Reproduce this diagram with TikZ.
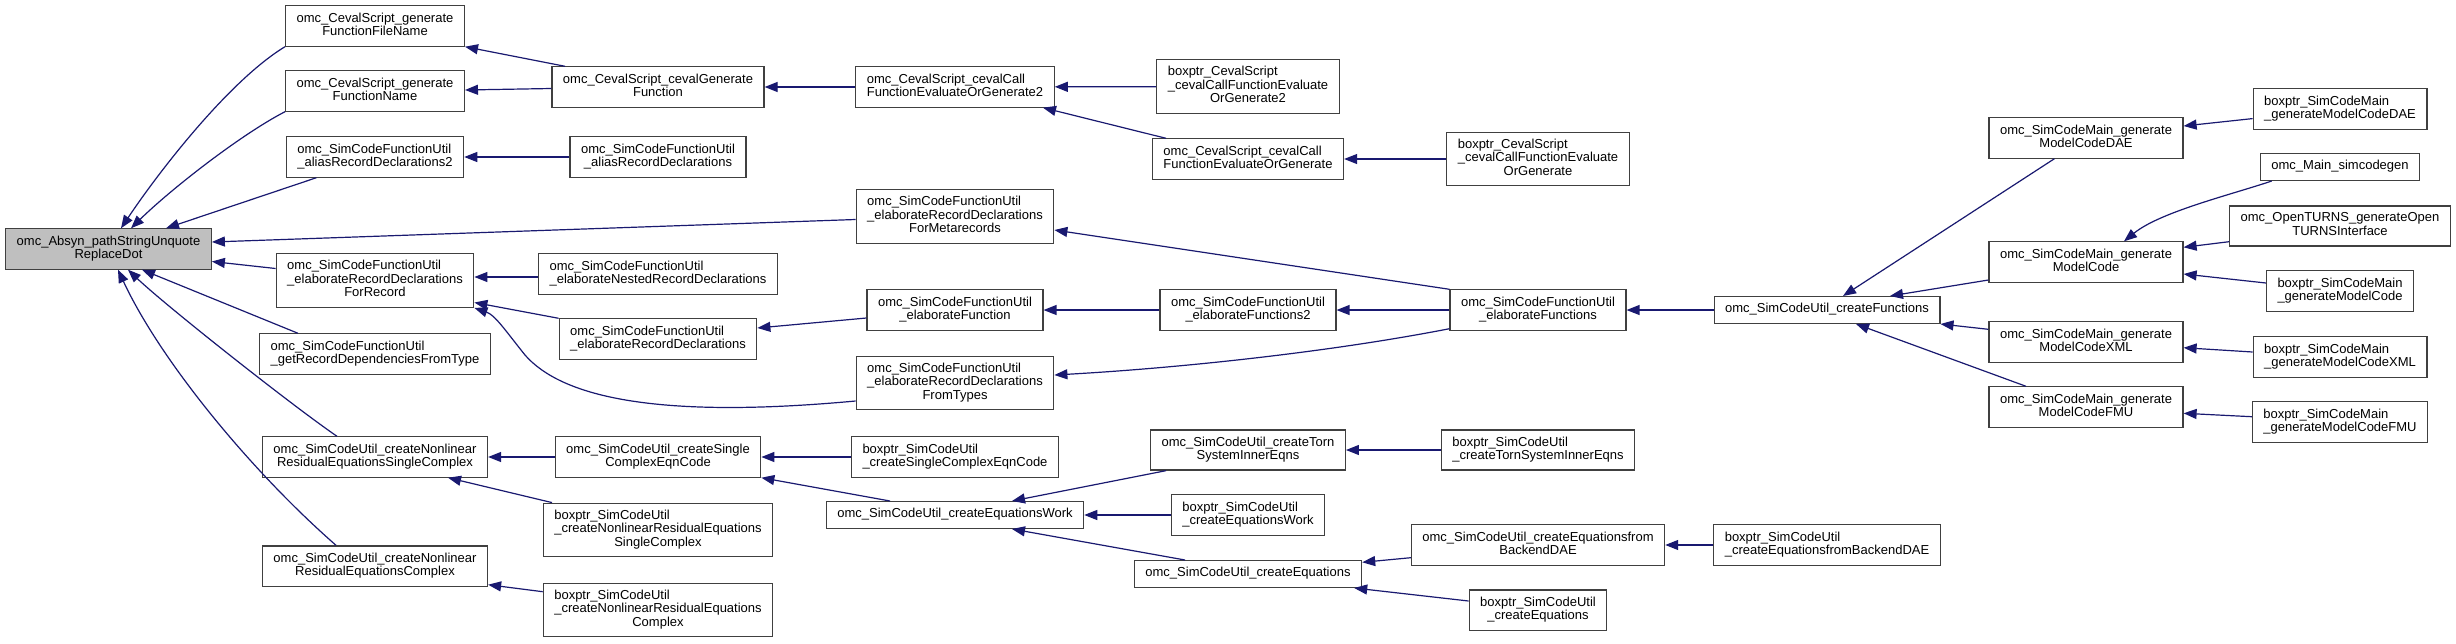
\documentclass[tikz,border=0pt]{standalone}
\usepackage{fontspec}
\setmainfont{Liberation Sans}
\usetikzlibrary{arrows.meta}
\definecolor{edgeblue}{RGB}{25,25,112}
\definecolor{boxline}{RGB}{64,64,64}
\definecolor{rootgray}{RGB}{191,191,191}
% label lines: all but the last flush left, the last one centred
\newcommand\twol[2]{\begin{tabular}{@{}l@{}}#1\\\multicolumn{1}{@{}c@{}}{#2}\end{tabular}}
\newcommand\threel[3]{\begin{tabular}{@{}l@{}}#1\\#2\\\multicolumn{1}{@{}c@{}}{#3}\end{tabular}}

\begin{document}
\begin{tikzpicture}[x=1pt,y=-1pt,
 fn/.style={draw=boxline,line width=1.2pt,fill=white,inner xsep=11pt,inner ysep=6.7pt,
  font=\fontsize{13}{13.3}\selectfont},
 call/.style={edgeblue,line width=1.2pt,-{Triangle[length=13pt,width=10pt]}}]
 \fill[white] (0,0) rectangle (2456,643);
 \useasboundingbox (0,0) rectangle (2456,643);

 % column 1
 \node[fn,fill=rootgray] (root) at (108.5,249) {\twol{omc\_Absyn\_pathStringUnquote}{ReplaceDot}};
 % column 2
 \node[fn] (genFileName) at (375,26) {\twol{omc\_CevalScript\_generate}{FunctionFileName}};
 \node[fn] (genFuncName) at (375,91) {\twol{omc\_CevalScript\_generate}{FunctionName}};
 \node[fn] (aliasRD2) at (375,157) {\twol{omc\_SimCodeFunctionUtil}{\_aliasRecordDeclarations2}};
 \node[fn] (forRecord) at (375,280.5) {\threel{omc\_SimCodeFunctionUtil}{\_elaborateRecordDeclarations}{ForRecord}};
 \node[fn] (getRecDeps) at (375,354) {\twol{omc\_SimCodeFunctionUtil}{\_getRecordDependenciesFromType}};
 \node[fn] (nonlinSingle) at (375,457) {\twol{omc\_SimCodeUtil\_createNonlinear}{ResidualEquationsSingleComplex}};
 \node[fn] (nonlinComplex) at (375,566) {\twol{omc\_SimCodeUtil\_createNonlinear}{ResidualEquationsComplex}};
 % column 3
 \node[fn] (cevalGenFunc) at (658,87) {\twol{omc\_CevalScript\_cevalGenerate}{Function}};
 \node[fn] (aliasRD) at (658,157) {\twol{omc\_SimCodeFunctionUtil}{\_aliasRecordDeclarations}};
 \node[fn] (nestedRD) at (658,274) {\twol{omc\_SimCodeFunctionUtil}{\_elaborateNestedRecordDeclarations}};
 \node[fn] (elabRD) at (658,339) {\twol{omc\_SimCodeFunctionUtil}{\_elaborateRecordDeclarations}};
 \node[fn] (singleCEC) at (658,457) {\twol{omc\_SimCodeUtil\_createSingle}{ComplexEqnCode}};
 \node[fn] (bpNonlinSingle) at (658,530) {\threel{boxptr\_SimCodeUtil}{\_createNonlinearResidualEquations}{SingleComplex}};
 \node[fn] (bpNonlinComplex) at (658,610) {\threel{boxptr\_SimCodeUtil}{\_createNonlinearResidualEquations}{Complex}};
 % column 4
 \node[fn] (callFEOG2) at (955,87) {\twol{omc\_CevalScript\_cevalCall}{FunctionEvaluateOrGenerate2}};
 \node[fn] (metarec) at (955,216.5) {\threel{omc\_SimCodeFunctionUtil}{\_elaborateRecordDeclarations}{ForMetarecords}};
 \node[fn] (elabFunc) at (955,310) {\twol{omc\_SimCodeFunctionUtil}{\_elaborateFunction}};
 \node[fn] (fromTypes) at (955,383) {\threel{omc\_SimCodeFunctionUtil}{\_elaborateRecordDeclarations}{FromTypes}};
 \node[fn] (bpSingleCEC) at (955,457) {\twol{boxptr\_SimCodeUtil}{\_createSingleComplexEqnCode}};
 \node[fn] (eqWork) at (955,515) {\strut omc\_SimCodeUtil\_createEquationsWork};
 % column 5
 \node[fn] (bpFEOG2) at (1248,86.5) {\threel{boxptr\_CevalScript}{\_cevalCallFunctionEvaluate}{OrGenerate2}};
 \node[fn] (callFEOG) at (1248,159) {\twol{omc\_CevalScript\_cevalCall}{FunctionEvaluateOrGenerate}};
 \node[fn] (elabFuncs2) at (1248,310) {\twol{omc\_SimCodeFunctionUtil}{\_elaborateFunctions2}};
 \node[fn] (torn) at (1248,450) {\twol{omc\_SimCodeUtil\_createTorn}{SystemInnerEqns}};
 \node[fn] (bpEqWork) at (1248,515) {\twol{boxptr\_SimCodeUtil}{\_createEquationsWork}};
 \node[fn] (createEq) at (1248,574) {\strut omc\_SimCodeUtil\_createEquations};
 % column 6
 \node[fn] (bpFEOG) at (1538,159) {\threel{boxptr\_CevalScript}{\_cevalCallFunctionEvaluate}{OrGenerate}};
 \node[fn] (elabFuncs) at (1538,310) {\twol{omc\_SimCodeFunctionUtil}{\_elaborateFunctions}};
 \node[fn] (bpTorn) at (1538,450) {\twol{boxptr\_SimCodeUtil}{\_createTornSystemInnerEqns}};
 \node[fn] (fromBDAE) at (1538,545) {\twol{omc\_SimCodeUtil\_createEquationsfrom}{BackendDAE}};
 \node[fn] (bpCreateEq) at (1538,610) {\twol{boxptr\_SimCodeUtil}{\_createEquations}};
 % column 7
 \node[fn] (createFuncs) at (1827,310) {\strut omc\_SimCodeUtil\_createFunctions};
 \node[fn] (bpFromBDAE) at (1827,545) {\twol{boxptr\_SimCodeUtil}{\_createEquationsfromBackendDAE}};
 % column 8
 \node[fn] (genDAE) at (2086,138) {\twol{omc\_SimCodeMain\_generate}{ModelCodeDAE}};
 \node[fn] (genMC) at (2086,262) {\twol{omc\_SimCodeMain\_generate}{ModelCode}};
 \node[fn] (genXML) at (2086,342) {\twol{omc\_SimCodeMain\_generate}{ModelCodeXML}};
 \node[fn] (genFMU) at (2086,407) {\twol{omc\_SimCodeMain\_generate}{ModelCodeFMU}};
 % column 9
 \node[fn] (bpDAE) at (2340,109) {\twol{boxptr\_SimCodeMain}{\_generateModelCodeDAE}};
 \node[fn] (simcodegen) at (2340,167) {\strut omc\_Main\_simcodegen};
 \node[fn] (openturns) at (2340,226) {\twol{omc\_OpenTURNS\_generateOpen}{TURNSInterface}};
 \node[fn] (bpMC) at (2340,291) {\twol{boxptr\_SimCodeMain}{\_generateModelCode}};
 \node[fn] (bpXML) at (2340,357) {\twol{boxptr\_SimCodeMain}{\_generateModelCodeXML}};
 \node[fn] (bpFMU) at (2340,422) {\twol{boxptr\_SimCodeMain}{\_generateModelCodeFMU}};

 % straight calls along one row
 \foreach \a/\b in {callFEOG2/cevalGenFunc,bpFEOG2/callFEOG2,bpFEOG/callFEOG,aliasRD/aliasRD2,
   elabFuncs2/elabFunc,elabFuncs/elabFuncs2,createFuncs/elabFuncs,singleCEC/nonlinSingle,
   bpSingleCEC/singleCEC,bpEqWork/eqWork,bpTorn/torn,bpFromBDAE/fromBDAE}
  \draw[call] (\a) -- (\b);

 % into the root
 \draw[call] (genFileName.south west) .. controls (230,80) and (160,170) .. ([xshift=12.5pt]root.north);
 \draw[call] (genFuncName.south west) .. controls (240,135) and (170,190) .. ([xshift=22.5pt]root.north);
 \draw[call] ([xshift=-58.6pt]aliasRD2.south) -- ([xshift=57.5pt]root.north);
 \draw[call] ([yshift=-3pt]metarec.west) -- ([yshift=7pt]root.east);
 \draw[call] ([yshift=12pt]forRecord.west) -- ([yshift=-12.5pt]root.east);
 \draw[call] ([xshift=-77pt]getRecDeps.north) -- ([xshift=33.5pt]root.south);
 \draw[call] ([xshift=-38pt]nonlinSingle.north) .. controls (290,404) and (165,305) .. ([xshift=19.5pt]root.south);
 \draw[call] ([xshift=-39pt]nonlinComplex.north) .. controls (250,470) and (160,360) .. ([xshift=9.5pt]root.south);

 % CevalScript branch
 \draw[call] ([xshift=-93pt]cevalGenFunc.north) -- (genFileName.south east);
 \draw[call] ([yshift=-1.5pt]cevalGenFunc.west) -- ([yshift=1pt]genFuncName.east);
 \draw[call] ([xshift=-82pt]callFEOG.north) -- ([xshift=88pt]callFEOG2.south);

 % record declarations
 \draw[call] ([yshift=-3pt]nestedRD.west) -- ([yshift=3.5pt]forRecord.east);
 \draw[call] (elabRD.north west) -- ([yshift=-22pt]forRecord.east);
 \draw[call] ([yshift=-18pt]fromTypes.west) .. controls (650,420) and (560,395) .. (525,355)
  .. controls (505,330) and (495,315) .. (forRecord.south east);
 \draw[call] ([yshift=-8pt]elabFunc.west) -- ([yshift=11pt]elabRD.east);
 \draw[call] (elabFuncs.north west) -- ([yshift=-13.5pt]metarec.east);
 \draw[call] ([yshift=2pt]elabFuncs.south west) .. controls (1330,352) and (1180,368) .. ([yshift=8pt]fromTypes.east);

 % SimCodeMain
 \draw[call] ([xshift=-31.6pt]genDAE.south) -- ([xshift=16pt]createFuncs.north);
 \draw[call] ([yshift=-18pt]genMC.west) -- ([xshift=63pt]createFuncs.north);
 \draw[call] ([yshift=12.7pt]genXML.west) -- (createFuncs.south east);
 \draw[call] ([xshift=-60pt]genFMU.north) -- ([xshift=29pt]createFuncs.south);
 \draw[call] ([yshift=-9.6pt]bpDAE.west) -- ([yshift=12pt]genDAE.east);
 \draw[call] ([xshift=12pt]simcodegen.south west) .. controls (2230,195) and (2160,212) .. ([xshift=38pt]genMC.north);
 \draw[call] ([yshift=-15.7pt]openturns.west) -- ([yshift=14.7pt]genMC.east);
 \draw[call] ([yshift=8pt]bpMC.west) -- ([yshift=-12pt]genMC.east);
 \draw[call] ([yshift=5pt]bpXML.west) -- ([yshift=-5.7pt]genXML.east);
 \draw[call] ([yshift=5.3pt]bpFMU.west) -- ([yshift=-6.3pt]genFMU.east);

 % equations
 \draw[call] ([xshift=-106pt]bpNonlinSingle.north) -- ([xshift=73pt]nonlinSingle.south);
 \draw[call] ([yshift=18.3pt]bpNonlinComplex.west) -- ([yshift=2pt]nonlinComplex.south east);
 \draw[call] ([xshift=-65pt]eqWork.north) -- (singleCEC.south east);
 \draw[call] ([xshift=-82pt]torn.south) -- ([xshift=57pt]eqWork.north);
 \draw[call] ([xshift=-63pt]createEq.north) -- ([xshift=57pt]eqWork.south);
 \draw[call] ([yshift=-12.7pt]fromBDAE.west) -- ([yshift=11.7pt]createEq.east);
 \draw[call] ([yshift=9pt]bpCreateEq.west) -- ([xshift=-8pt]createEq.south east);
\end{tikzpicture}
\end{document}
